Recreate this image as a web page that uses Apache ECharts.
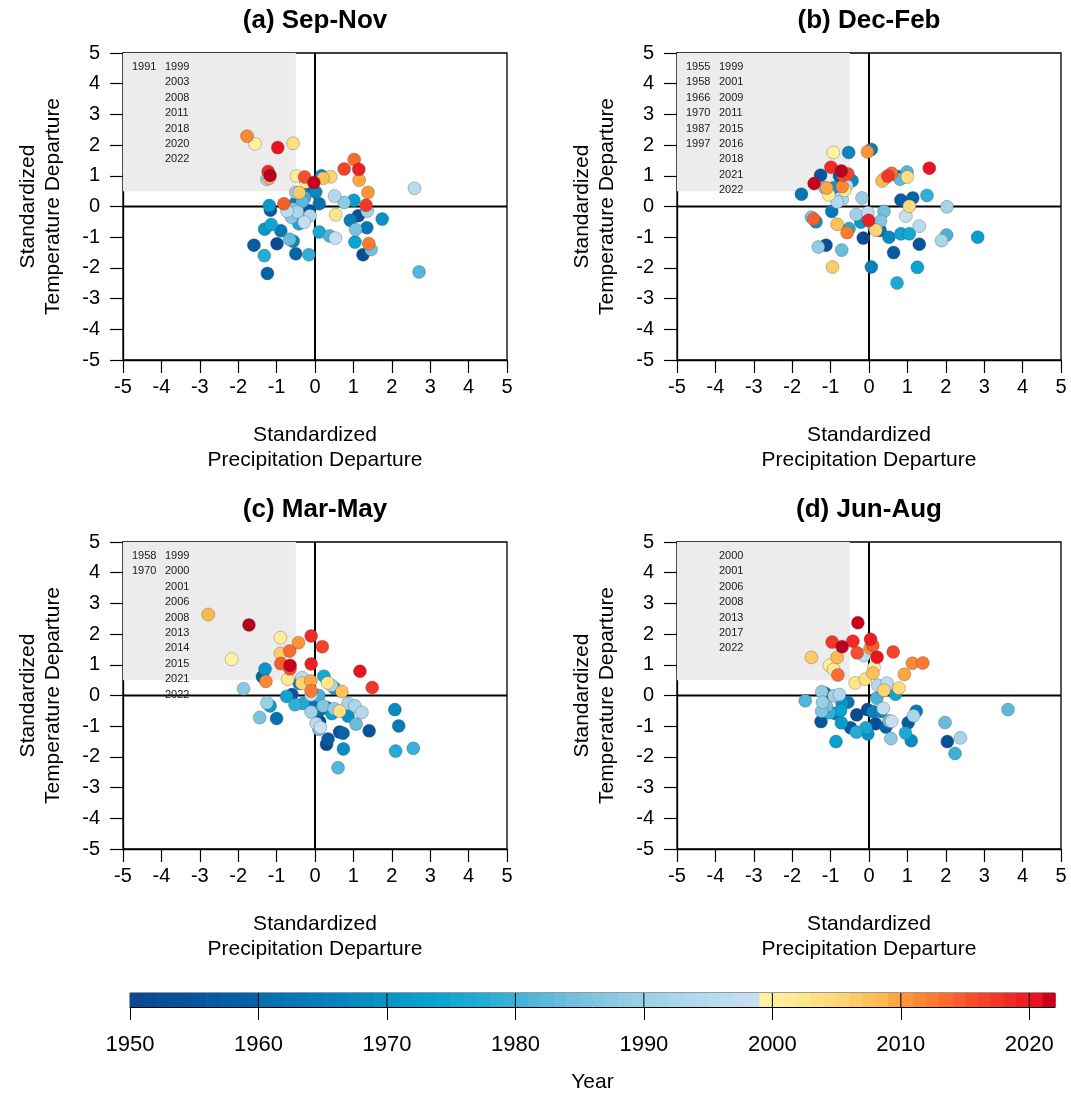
<!DOCTYPE html>
<html>
<head>
<meta charset="utf-8">
<script src="https://cdn.jsdelivr.net/npm/echarts@6/dist/echarts.min.js"></script>
<style>
  html, body { margin: 0; padding: 0; background: #fff; }
  #chart { width: 1071px; height: 1094px; }
</style>
</head>
<body>
<div id="chart"></div>
<script>
// Each record: [year, standardized precipitation departure, standardized temperature departure]
const sepNov = [
  [1951,-0.99,-1.21],[1952,1.25,-1.57],[1953,1.13,-0.30],[1955,-0.15,-0.14],[1956,-1.16,-0.12],
  [1957,-1.59,-1.26],[1958,-1.24,-2.18],[1959,-0.50,-1.54],[1960,0.11,0.09],[1961,-0.20,0.50],
  [1962,1.35,-0.69],[1963,-0.89,-0.79],[1964,-0.51,0.11],[1965,0.92,-0.45],[1966,-0.57,-1.13],
  [1967,0.02,0.47],[1968,0.17,1.00],[1969,1.75,-0.41],[1970,-1.31,-0.74],[1971,-1.19,0.03],
  [1972,1.01,0.20],[1973,1.04,-1.16],[1974,-1.14,-0.59],[1975,0.11,-0.83],[1976,-0.42,-0.56],
  [1977,-1.32,-1.60],[1978,-0.16,-1.57],[1979,-0.27,0.29],[1980,0.38,-0.96],[1981,2.71,-2.13],
  [1982,-0.33,0.17],[1983,-0.66,-1.07],[1984,1.46,-1.40],[1985,1.06,-0.75],[1986,-0.57,-0.08],
  [1987,-0.61,-0.35],[1988,0.76,0.13],[1989,-0.50,0.46],[1990,1.36,-0.15],[1991,-1.25,0.89],
  [1992,-0.46,-0.18],[1993,-0.13,-0.30],[1994,0.51,0.34],[1995,2.59,0.59],[1996,-0.73,-0.15],
  [1997,-0.28,-0.51],[1998,0.53,-1.03],[1999,-1.56,2.04],[2000,-0.48,0.99],[2001,-0.24,0.80],
  [2002,0.54,-0.27],[2003,-0.57,2.06],[2005,0.41,0.97],[2006,-0.41,0.45],[2007,0.21,0.92],
  [2008,-1.19,0.93],[2009,1.15,0.86],[2010,1.38,0.46],[2011,-1.77,2.29],[2012,1.40,-1.21],
  [2013,1.02,1.53],[2014,-0.81,0.09],[2015,-0.27,0.96],[2016,0.76,1.22],[2017,1.33,0.04],
  [2018,-1.22,1.14],[2019,1.14,1.21],[2020,-0.97,1.92],[2021,-0.03,0.78],[2022,-1.17,1.01]
];

const decFeb = [
  [1950,-0.15,-1.03],[1952,-1.12,-1.26],[1954,1.31,-1.23],[1955,-1.26,1.02],[1956,0.64,-1.50],
  [1957,0.83,0.21],[1958,-0.77,0.99],[1959,1.14,0.28],[1960,0.77,0.97],[1961,0.29,-0.78],
  [1962,-1.76,0.40],[1963,-0.97,-0.16],[1964,0.06,1.86],[1965,0.06,-1.97],[1966,-0.53,1.76],
  [1967,0.52,-1.00],[1968,-0.44,0.84],[1969,-1.38,-0.50],[1970,-0.92,0.61],[1971,-0.21,-0.51],
  [1972,2.83,-1.00],[1973,1.26,-1.98],[1974,0.83,-0.89],[1975,1.05,-0.89],[1976,0.73,-2.49],
  [1977,-0.52,-0.72],[1978,1.51,0.36],[1979,0.13,-0.66],[1980,2.02,-0.93],[1981,0.99,1.12],
  [1982,0.81,0.89],[1983,-0.71,-1.42],[1984,0.39,-0.16],[1985,-1.50,-0.35],[1986,0.30,-0.47],
  [1987,-1.15,0.61],[1988,-1.32,-1.32],[1989,-0.18,0.28],[1990,-0.33,-0.26],[1991,2.03,-0.01],
  [1992,1.89,-1.11],[1993,-0.70,0.23],[1994,-0.83,0.15],[1995,1.31,-0.64],[1996,-0.03,-0.20],
  [1997,-0.58,0.67],[1998,0.96,-0.31],[1999,-0.93,1.76],[2000,-1.05,0.38],[2001,-0.63,0.53],
  [2002,0.40,0.91],[2003,1.00,0.96],[2004,1.05,0.01],[2005,0.18,-0.77],[2006,-0.95,-1.97],
  [2007,-0.83,-0.58],[2008,0.34,0.83],[2009,-1.10,0.60],[2010,-0.04,1.78],[2011,-0.70,0.65],
  [2012,-0.57,-0.85],[2013,0.59,1.08],[2014,-1.44,-0.41],[2015,-0.67,1.02],[2016,-0.55,1.06],
  [2017,0.49,0.99],[2018,-0.99,1.28],[2019,-0.01,-0.45],[2020,1.57,1.25],[2021,-1.43,0.75],
  [2022,-0.72,1.16]
];

const marMay = [
  [1950,0.30,-1.59],[1951,0.12,-0.85],[1953,0.64,-1.19],[1954,1.41,-1.15],[1955,-0.60,0.03],
  [1956,0.34,-1.42],[1957,0.31,-0.40],[1958,-1.37,0.61],[1959,0.73,-1.23],[1960,-1.00,-0.75],
  [1961,0.12,-0.48],[1962,-0.05,-0.34],[1963,2.18,-0.99],[1965,-0.41,0.39],[1967,2.08,-0.46],
  [1968,0.74,-1.74],[1969,0.86,-0.67],[1970,-1.30,0.86],[1971,-1.17,-0.34],[1972,0.50,0.25],
  [1973,0.44,-0.59],[1974,-0.74,-0.03],[1975,0.23,0.63],[1976,-0.31,-0.26],[1977,2.10,-1.81],
  [1978,-0.52,-0.30],[1979,2.56,-1.72],[1980,0.10,0.00],[1981,0.60,-2.35],[1983,1.07,-0.93],
  [1984,0.10,-1.10],[1985,-1.44,-0.72],[1986,0.21,-0.34],[1987,-1.86,0.22],[1988,0.50,-0.43],
  [1989,-1.25,-0.24],[1990,-0.10,-0.54],[1991,0.86,-0.26],[1992,1.04,-0.34],[1993,0.43,0.33],
  [1994,1.22,-0.55],[1995,0.03,-0.91],[1996,-0.34,0.58],[1997,-0.10,0.02],[1998,0.14,-1.04],
  [1999,-2.17,1.18],[2000,-0.90,1.88],[2001,-0.71,0.53],[2002,0.33,0.41],[2003,0.64,-0.51],
  [2005,-0.34,0.40],[2006,-0.90,1.37],[2007,0.70,0.13],[2008,-2.78,2.64],[2009,-0.11,0.47],
  [2010,-0.43,1.72],[2011,-1.28,0.46],[2012,-0.10,0.15],[2013,-0.66,1.45],[2014,-0.89,1.04],
  [2015,-0.65,0.87],[2016,0.19,1.59],[2017,1.49,0.26],[2018,-0.10,1.94],[2019,-0.10,1.03],
  [2020,1.17,0.79],[2021,-0.65,0.98],[2022,-1.72,2.30]
];

const junAug = [
  [1950,-0.32,-0.63],[1951,-0.04,-0.46],[1952,0.17,-0.92],[1953,2.04,-1.50],[1955,-1.25,-0.85],
  [1956,-0.48,-1.05],[1957,1.02,-0.89],[1959,0.44,-1.03],[1961,-1.14,0.07],[1962,-0.55,-0.22],
  [1963,1.23,-0.51],[1964,-0.87,-0.59],[1965,0.11,-0.53],[1967,0.31,-0.52],[1968,1.10,-1.47],
  [1969,-0.03,-1.25],[1970,-0.70,-0.26],[1971,-0.72,-0.89],[1972,-0.86,-1.50],[1973,-0.74,-0.49],
  [1974,0.69,0.04],[1975,-0.08,-1.05],[1976,0.95,-1.22],[1977,-0.33,-1.19],[1978,-1.03,-0.56],
  [1979,2.24,-1.89],[1980,0.20,-0.09],[1981,-1.66,-0.17],[1982,3.62,-0.46],[1983,1.98,-0.88],
  [1984,0.52,-0.83],[1985,-1.11,-0.35],[1986,-1.23,-0.51],[1987,0.57,-1.40],[1988,-1.23,0.12],
  [1989,-1.21,-0.22],[1990,-0.91,-0.01],[1991,2.38,-1.38],[1992,1.16,-0.66],[1993,-0.77,0.03],
  [1994,0.23,0.33],[1995,-0.13,1.30],[1996,0.47,0.40],[1997,0.37,-0.42],[1998,0.59,-0.84],
  [1999,0.13,0.92],[2000,-1.03,0.98],[2001,-0.92,0.85],[2002,-0.36,0.41],[2003,-0.10,0.53],
  [2004,0.78,0.24],[2005,0.39,0.17],[2006,-1.50,1.24],[2007,0.10,0.73],[2008,-0.83,1.24],
  [2009,0.92,0.69],[2010,0.03,1.55],[2011,1.13,1.05],[2012,1.40,1.06],[2013,-0.81,0.67],
  [2014,0.10,1.63],[2015,-0.31,1.39],[2016,0.63,1.42],[2017,-0.96,1.74],[2018,-0.42,1.77],
  [2019,0.04,1.83],[2020,0.21,1.25],[2021,-0.29,2.37],[2022,-0.70,1.59]
];

const panelTitles = ['(a) Sep-Nov', '(b) Dec-Feb', '(c) Mar-May', '(d) Jun-Aug'];
const panelData = [sepNov, decFeb, marMay, junAug];

// Warm-and-dry corner: precipitation below -0.5 and temperature above +0.5
const DRY_LIMIT = -0.5;
const WARM_LIMIT = 0.5;

// Year colour bar
const colorbarStart = 1950;
const colorbarEnd = 2022;
const colorbarTicks = [1950, 1960, 1970, 1980, 1990, 2000, 2010, 2020];

// ---------------------------------------------------------------------------
const FONT = '"Liberation Sans", Arial, Helvetica, sans-serif';

// Blue ramp for 1950-1998, yellow-orange-red ramp from 1999 on
const yearStops = [
  [1950, '#0a4a90'], [1955, '#0656a0'], [1959, '#0464a8'], [1960, '#0470b0'],
  [1965, '#0880bc'], [1970, '#0896c8'], [1973, '#06a4d0'], [1977, '#22acd6'],
  [1980, '#48b2d8'], [1984, '#72c0de'], [1988, '#90cce4'], [1990, '#9ed2e8'],
  [1994, '#b2daee'], [1998.99, '#cce0f2'],
  [1999, '#fff2a2'], [2002, '#fee68a'], [2005, '#fdd472'], [2008, '#fdb850'],
  [2010, '#fd9438'], [2012, '#fb7a30'], [2015, '#f6502a'], [2018, '#f02a24'],
  [2020, '#ea1420'], [2021, '#c8001e'], [2022, '#b80020']
];

function hexToRgb(h) {
  return [parseInt(h.slice(1, 3), 16), parseInt(h.slice(3, 5), 16), parseInt(h.slice(5, 7), 16)];
}

function yearColor(y) {
  if (y <= yearStops[0][0]) return yearStops[0][1];
  for (let i = 1; i < yearStops.length; i++) {
    const [y1, c1] = yearStops[i];
    if (y <= y1) {
      const [y0, c0] = yearStops[i - 1];
      const t = (y - y0) / (y1 - y0);
      const a = hexToRgb(c0), b = hexToRgb(c1);
      const m = a.map((v, k) => Math.round(v + (b[k] - v) * t));
      return 'rgb(' + m.join(',') + ')';
    }
  }
  return yearStops[yearStops.length - 1][1];
}

const panelLayout = [
  { left: 123, top: 53 }, { left: 677, top: 53 },
  { left: 123, top: 542 }, { left: 677, top: 542 }
];
const PANEL_W = 384;
const PANEL_H = 307;

const grids = [], xAxes = [], yAxes = [], series = [], titles = [];

panelData.forEach((data, i) => {
  const lay = panelLayout[i];
  grids.push({
    left: lay.left, top: lay.top, width: PANEL_W, height: PANEL_H,
    show: true, borderColor: '#000', borderWidth: 1.3, backgroundColor: 'transparent'
  });
  titles.push({
    text: panelTitles[i], left: lay.left + PANEL_W / 2, top: lay.top - 45,
    textAlign: 'center', padding: 0,
    textStyle: { fontSize: 26, fontWeight: 'bold', fontFamily: FONT, color: '#000' }
  });
  const axisCommon = {
    gridIndex: i, type: 'value', min: -5, max: 5, interval: 1,
    axisLine: { show: true, onZero: false, lineStyle: { color: '#000', width: 1.3 } },
    axisTick: { show: true, length: 13, lineStyle: { color: '#000', width: 1.2 } },
    splitLine: { show: false },
    nameLocation: 'middle'
  };
  xAxes.push(Object.assign({}, axisCommon, {
    axisLabel: { color: '#000', fontSize: 20, margin: 17, fontFamily: FONT },
    name: 'Standardized\nPrecipitation Departure', nameGap: 63,
    nameTextStyle: { fontSize: 21, lineHeight: 25, color: '#000', fontFamily: FONT }
  }));
  yAxes.push(Object.assign({}, axisCommon, {
    axisLabel: { color: '#000', fontSize: 20, margin: 23, fontFamily: FONT },
    name: 'Standardized\nTemperature Departure', nameGap: 57, nameRotate: 90,
    nameTextStyle: { fontSize: 21, lineHeight: 25, color: '#000', fontFamily: FONT }
  }));

  // years that fall in the warm-and-dry corner, split into the cool (pre-1999) and warm lists
  const cornerYears = data.filter(d => d[1] < DRY_LIMIT && d[2] > WARM_LIMIT).map(d => d[0]).sort();
  const colEarly = cornerYears.filter(y => y < 1999);
  const colLate = cornerYears.filter(y => y >= 1999);

  // shaded corner, zero lines and the corner year lists
  series.push({
    type: 'custom', xAxisIndex: i, yAxisIndex: i, z: 1, silent: true,
    data: [[0, 0]],
    renderItem: function (params, api) {
      const tl = api.coord([-5, 5]);
      const br = api.coord([DRY_LIMIT, WARM_LIMIT]);
      const xl = api.coord([-5, 0]), xr = api.coord([5, 0]);
      const yt = api.coord([0, 5]), yb = api.coord([0, -5]);
      const children = [
        { type: 'rect', shape: { x: tl[0], y: tl[1], width: br[0] - tl[0], height: br[1] - tl[1] },
          style: { fill: '#ececec' } },
        { type: 'line', shape: { x1: xl[0], y1: xl[1], x2: xr[0], y2: xr[1] },
          style: { stroke: '#000', lineWidth: 2 } },
        { type: 'line', shape: { x1: yt[0], y1: yt[1], x2: yb[0], y2: yb[1] },
          style: { stroke: '#000', lineWidth: 2 } }
      ];
      const addCol = (list, dx) => list.forEach((y, k) => {
        children.push({
          type: 'text', x: tl[0] + dx, y: tl[1] + 14 + k * 15.4,
          style: { text: String(y), fill: '#1a1a1a', fontSize: 11, fontFamily: FONT,
                   verticalAlign: 'middle', align: 'left' }
        });
      });
      addCol(colEarly, 9);
      addCol(colLate, 42);
      return { type: 'group', children: children };
    }
  });

  // the points, drawn oldest first so recent years sit on top
  const pts = data.slice().sort((a, b) => a[0] - b[0]).map(d => ({
    value: [d[1], d[2], d[0]],
    itemStyle: { color: yearColor(d[0]) }
  }));
  series.push({
    type: 'scatter', xAxisIndex: i, yAxisIndex: i, z: 3,
    symbolSize: 13,
    itemStyle: { borderColor: 'rgba(70,70,70,0.55)', borderWidth: 0.6, opacity: 1 },
    emphasis: { disabled: true },
    data: pts
  });
});

// colour bar
const cbIndex = panelData.length;
grids.push({ left: 130, top: 993, width: 925, height: 16, show: true, borderColor: '#333', borderWidth: 1 });
xAxes.push({
  gridIndex: cbIndex, type: 'value', min: colorbarStart, max: colorbarEnd,
  axisLine: { show: true, lineStyle: { color: '#000', width: 1 } },
  axisTick: { show: true, length: 13, customValues: colorbarTicks, lineStyle: { color: '#000', width: 1 } },
  axisLabel: {
    customValues: colorbarTicks, color: '#000', fontSize: 22, margin: 27, fontFamily: FONT,
    formatter: v => String(v)
  },
  splitLine: { show: false },
  name: 'Year', nameLocation: 'middle', nameGap: 65,
  nameTextStyle: { fontSize: 21, color: '#000', fontFamily: FONT }
});
yAxes.push({ gridIndex: cbIndex, type: 'value', min: 0, max: 1, show: false });

const cbYears = [];
for (let y = colorbarStart; y < colorbarEnd; y++) cbYears.push([y, 0]);
series.push({
  type: 'custom', xAxisIndex: cbIndex, yAxisIndex: cbIndex, silent: true,
  data: cbYears,
  renderItem: function (params, api) {
    const y = api.value(0);
    const p1 = api.coord([y, 1]);
    const p2 = api.coord([y + 1, 0]);
    const children = [{
      type: 'rect',
      shape: { x: p1[0], y: p1[1], width: p2[0] - p1[0] + 0.6, height: p2[1] - p1[1] },
      style: { fill: yearColor(y) }
    }];
    if (y % 10 === 0 && y > colorbarStart) {
      children.push({ type: 'line', shape: { x1: p1[0], y1: p1[1], x2: p1[0], y2: p2[1] },
        style: { stroke: '#000', lineWidth: 1 } });
    }
    return { type: 'group', children: children };
  }
});

const chart = echarts.init(document.getElementById('chart'), null, { renderer: 'canvas' });
chart.setOption({
  animation: false,
  backgroundColor: '#fff',
  textStyle: { fontFamily: FONT },
  title: titles,
  grid: grids,
  xAxis: xAxes,
  yAxis: yAxes,
  series: series
});
</script>
</body>
</html>
